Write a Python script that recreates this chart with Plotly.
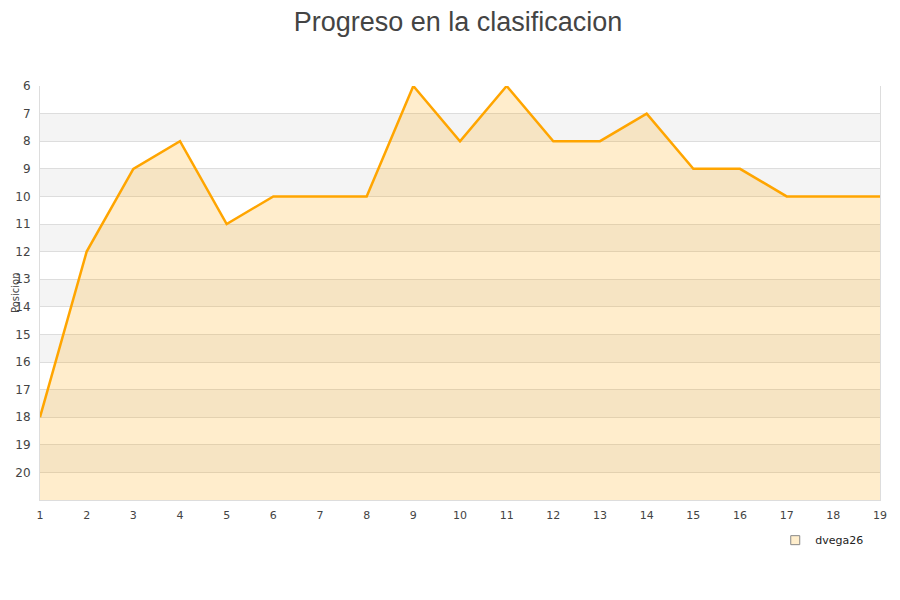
import plotly.graph_objects as go

jornadas = list(range(1, 20))
posiciones = [18, 12, 9, 8, 11, 10, 10, 10, 6, 8, 6, 8, 8, 7, 9, 9, 10, 10, 10]
y_ticks = list(range(6, 21))
y_min, y_max = 6, 21
team = "dvega26"

fig = go.Figure()

# alternating bands
shapes = []
for t in y_ticks:
    if t % 2 == 1:
        shapes.append(dict(type="rect", xref="paper", yref="y", x0=0, x1=1,
                           y0=t, y1=t + 1, fillcolor="#f4f4f4", line_width=0, layer="below"))

fig.add_trace(go.Scatter(x=jornadas, y=[y_max] * len(jornadas), mode="lines",
                         line=dict(width=0), showlegend=False, hoverinfo="skip"))
fig.add_trace(go.Scatter(x=jornadas, y=posiciones, mode="lines", fill="tonexty",
                         fillcolor="rgba(255,165,0,0.2)",
                         line=dict(color="#ffa500", width=2.5), showlegend=False, name=team))
fig.add_trace(go.Scatter(x=[None], y=[None], mode="markers", name=team,
                         marker=dict(symbol="square", size=9, color="#ffeecc",
                                     line=dict(color="#888", width=1))))

fig.update_layout(
    width=900, height=600,
    paper_bgcolor="white", plot_bgcolor="white",
    margin=dict(l=32, r=28, t=78, b=108, autoexpand=False),
    title=dict(text="Progreso en la clasificacion", x=0.5, xanchor="center", y=1, yanchor="top",
               pad=dict(t=4),
               font=dict(family="Liberation Sans, Arial", size=27, color="#444")),
    font=dict(family="DejaVu Sans", size=11, color="#444"),
    shapes=shapes,
    showlegend=True,
    legend=dict(x=0.986, xanchor="right", y=-0.062, yanchor="top", bgcolor="rgba(0,0,0,0)",
                itemwidth=30, font=dict(size=11, color="#222")),
    annotations=[dict(text="Posicion", xref="paper", yref="paper", x=0, y=0.5,
                      xanchor="center", yanchor="middle", xshift=-25, textangle=-90,
                      showarrow=False, font=dict(size=10, color="#444"))],
)
fig.update_xaxes(range=[1, 19], tickvals=jornadas, showgrid=False, zeroline=False,
                 showline=True, linecolor="#ddd", ticks="", ticklen=0, automargin=False,
                 ticklabelstandoff=5,
                 tickfont=dict(size=11, color="#444"))
fig.update_yaxes(range=[y_max, y_min], tickvals=y_ticks, showgrid=True, gridcolor="#ddd",
                 zeroline=False, showline=True, linecolor="#ddd", mirror=True, automargin=False,
                 ticklabelstandoff=6,
                 tickfont=dict(size=12, color="#444"), ticks="")

fig.write_html("out.html")
